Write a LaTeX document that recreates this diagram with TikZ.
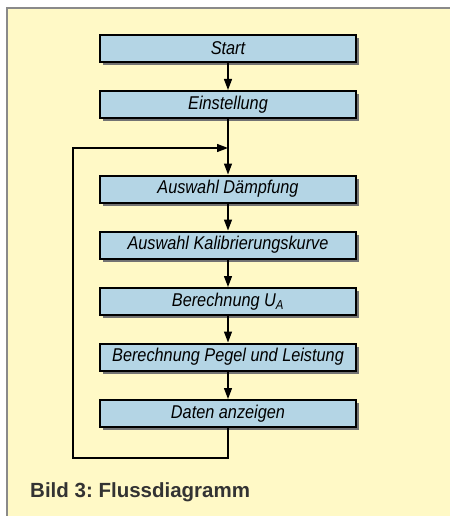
\documentclass[tikz,border=0pt]{standalone}
\usepackage{fontspec}
\setmainfont{Liberation Sans}
\newfontfamily\boxfont[FakeStretch=0.88]{Liberation Sans}
\usetikzlibrary{arrows.meta,shadows}
\definecolor{bgyellow}{HTML}{FFF9C6}
\definecolor{boxblue}{HTML}{B4D5E5}
\definecolor{framegray}{HTML}{8A8A8A}
\definecolor{captiongray}{HTML}{333333}
\frenchspacing
\begin{document}
\begin{tikzpicture}[x=1pt,y=-1pt,
  flowbox/.style={draw=black, line width=2pt, fill=boxblue, rectangle,
    minimum width=256pt, minimum height=27pt, inner sep=0pt,
    font=\boxfont\itshape\fontsize{18.5}{21}\selectfont,
    drop shadow={shadow xshift=3pt, shadow yshift=-3pt, fill=black!55, opacity=1}},
  flowline/.style={line width=1.3pt, draw=black},
  flowarrow/.style={flowline, -{Triangle[length=11pt,width=8pt]}}
]
\useasboundingbox (0,0) rectangle (450,516);
\fill[white] (0,0) rectangle (450,516);
\fill[bgyellow] (7,8) rectangle (450,516);
\draw[framegray, line width=1.5pt] (7,516) -- (7,8) -- (450,8);

\node[flowbox] (start) at (228,48.5) {Start};
\node[flowbox] (einst) at (228,104.5) {Einstellung};
\node[flowbox] (daempf) at (228,189) {Auswahl Dämpfung};
\node[flowbox] (kalib) at (228,245) {Auswahl Kalibrierungskurve};
\node[flowbox] (ua) at (228,301.5) {Berechnung U\textsubscript{A}};
\node[flowbox] (pegel) at (228,357) {Berechnung Pegel und Leistung};
\node[flowbox] (daten) at (228,413.5) {Daten anzeigen};

\coordinate (join) at (228,148);
\coordinate (loopbr) at (228,458);
\coordinate (loopbl) at (73,458);
\coordinate (looptl) at (73,148);

\draw[flowarrow] (start) -- (einst);
\draw[flowarrow] (einst) -- (daempf);
\draw[flowarrow] (daempf) -- (kalib);
\draw[flowarrow] (kalib) -- (ua);
\draw[flowarrow] (ua) -- (pegel);
\draw[flowarrow] (pegel) -- (daten);
\draw[flowarrow] (daten.south) -- (loopbr) -- (loopbl) -- (looptl) -- (join);

\node[anchor=base west, inner sep=0pt, text=captiongray,
  font=\bfseries\fontsize{20.5}{24}\selectfont] (caption) at (30,497) {Bild 3: Flussdiagramm};
\end{tikzpicture}
\end{document}
